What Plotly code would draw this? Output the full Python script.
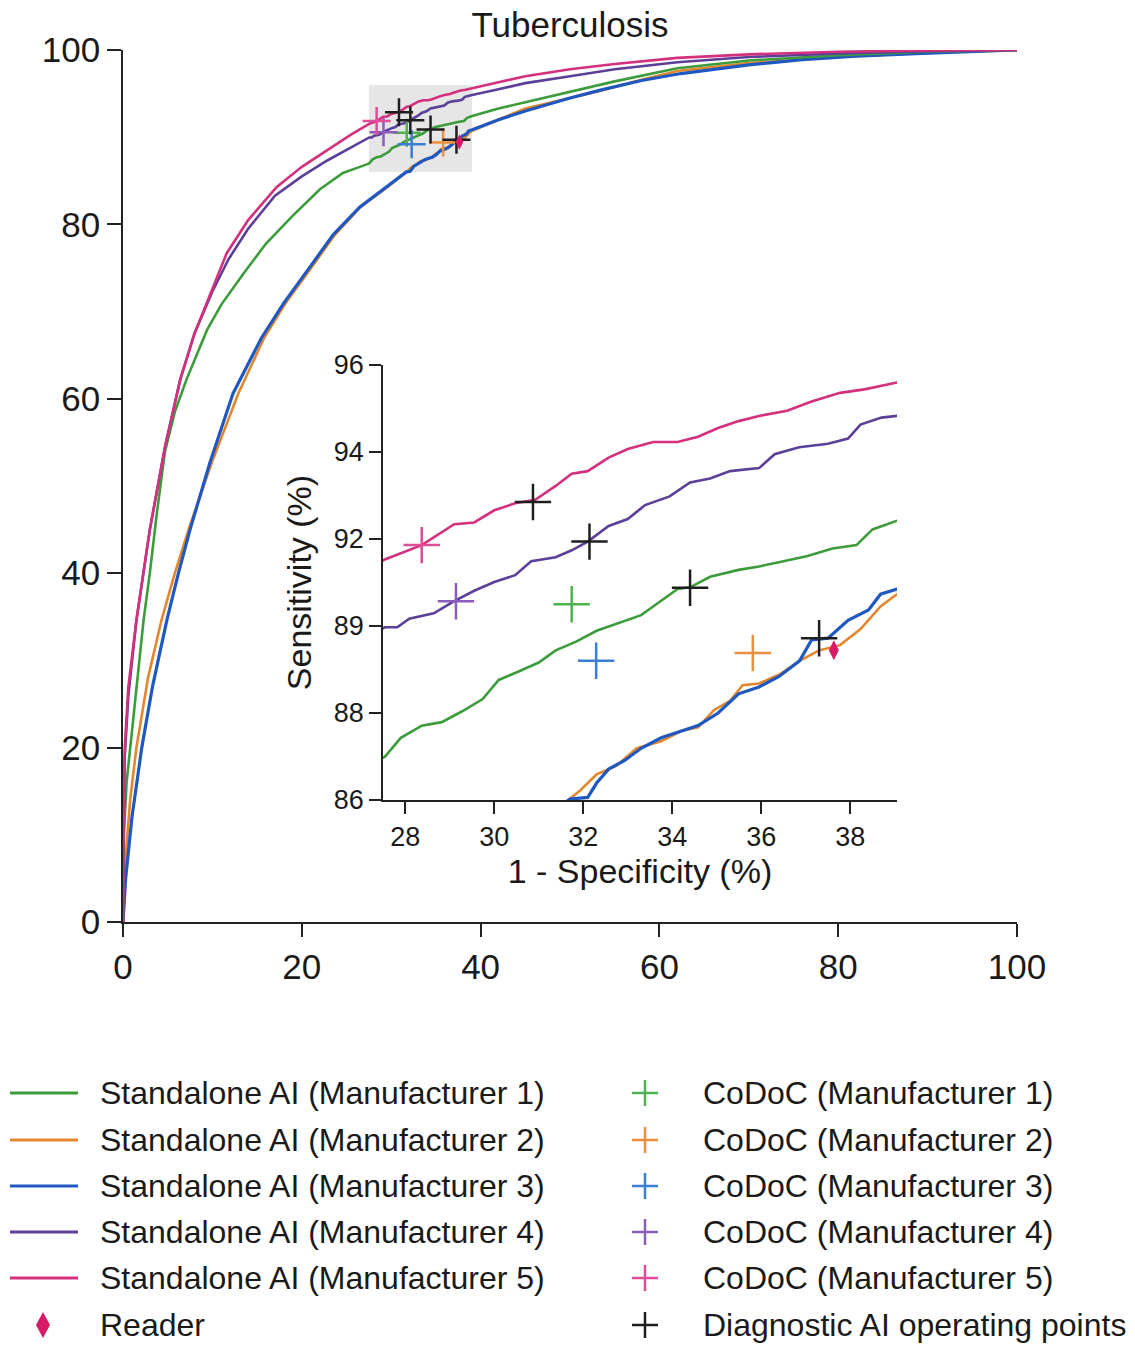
import plotly.graph_objects as go

# ---------------- data ----------------
series_names = ["Standalone AI (Manufacturer 1)", "Standalone AI (Manufacturer 2)",
                "Standalone AI (Manufacturer 3)", "Standalone AI (Manufacturer 4)",
                "Standalone AI (Manufacturer 5)"]
codoc_names = ["CoDoC (Manufacturer 1)", "CoDoC (Manufacturer 2)", "CoDoC (Manufacturer 3)",
               "CoDoC (Manufacturer 4)", "CoDoC (Manufacturer 5)"]
reader_name = "Reader"
diag_name = "Diagnostic AI operating points"

fpr_m1 = [0, 0.1, 0.4, 0.8, 1.5, 2.3, 3.0, 3.8, 4.7, 5.8, 7.1, 8.2, 9.4, 11.0, 13.5, 16.0, 19.0, 22.0, 24.6, 26.5,
          27.54, 27.9, 28.37, 28.82, 29.28, 29.74, 30.1, 30.56, 31.0, 31.38, 31.84, 32.3, 32.84, 33.3, 33.57, 34.12,
          34.4, 34.85, 35.49, 35.95, 36.5, 37.04, 37.6, 38.14, 38.5, 39.05,
          42, 45, 50, 55, 62, 70, 80, 90, 100]
tpr_m1 = [0, 10, 16, 20, 27, 34.6, 40, 47, 54, 58.5, 62.2, 65, 67.9, 70.8, 74.4, 77.8, 81.0, 84.0, 85.9, 86.6,
          86.99, 87.43, 87.71, 87.79, 88.04, 88.32, 88.76, 88.96, 89.16, 89.44, 89.64, 89.89, 90.09, 90.25, 90.45, 90.85,
          90.89, 91.13, 91.29, 91.37, 91.49, 91.61, 91.78, 91.86, 92.22, 92.42,
          93.3, 94.0, 95.2, 96.4, 97.9, 98.8, 99.4, 99.8, 100]

fpr_m2 = [0, 0.2, 0.8, 1.5, 2.8, 4.3, 5.8, 7.5, 9.9, 12.9, 15.8, 18.2, 21.1, 23.7, 26.6, 29.6,
          31.93, 32.3, 32.75, 33.2, 33.75, 34.21, 34.58, 34.94, 35.3, 35.58, 35.95, 36.4, 36.86, 37.3, 37.77, 38.23,
          38.68, 39.05,
          42, 45, 48, 53, 58, 62, 70, 80, 90, 100]
tpr_m2 = [0, 6, 14, 20, 28, 34.6, 40, 45.5, 52.6, 60.6, 67, 71, 75.1, 78.8, 82, 84.3,
          86.22, 86.59, 86.79, 87.19, 87.35, 87.59, 87.67, 88.07, 88.28, 88.64, 88.68, 88.88, 89.2, 89.44, 89.56, 89.93,
          90.45, 90.73,
          92.0, 93.3, 94.0, 95.2, 96.6, 97.6, 98.5, 99.2, 99.7, 100]

fpr_m3 = [0, 0.3, 1.0, 2.1, 3.3, 4.9, 6.2, 7.5, 9.7, 12.3, 15.5, 18.0, 20.9, 23.5, 26.5, 29.5,
          31.7, 32.1, 32.3, 32.57, 32.93, 33.3, 33.75, 34.21, 34.58, 35.03, 35.49, 35.95, 36.4, 36.86, 37.13, 37.5,
          37.95, 38.41, 38.68, 39.05,
          42, 45, 50, 53.4, 58, 62.4, 70, 76, 82, 89.4, 95, 100]
tpr_m3 = [0, 5, 12, 20, 27, 34.6, 40, 45, 52.6, 60.6, 67, 71, 75.1, 78.8, 82, 84.3,
          86.02, 86.06, 86.39, 86.71, 86.91, 87.19, 87.43, 87.59, 87.71, 88.0, 88.44, 88.6, 88.84, 89.2, 89.68, 89.72,
          90.13, 90.37, 90.73, 90.85,
          92.0, 93.0, 94.5, 95.4, 96.5, 97.3, 98.3, 98.9, 99.3, 99.6, 99.85, 100]

fpr_m4 = [0, 0.05, 0.2, 0.6, 1.5, 3.0, 4.7, 6.4, 8.0, 10.0, 11.8, 14.0, 17.0, 20.0, 22.8, 25.5,
          27.54, 27.82, 28.09, 28.64, 29.1, 29.55, 30.0, 30.47, 30.83, 31.38, 31.74, 32.1, 32.57, 33.0, 33.39, 33.94,
          34.4, 34.85, 35.3, 35.95, 36.3, 36.85, 37.5, 37.95, 38.23, 38.7, 39.05,
          42, 45, 50, 55, 62, 70, 80, 90, 100]
tpr_m4 = [0, 10, 19, 26, 34.6, 45, 54.5, 62.2, 67.5, 72.3, 76.0, 79.5, 83.3, 85.5, 87.3, 88.8,
          89.97, 89.97, 90.17, 90.29, 90.57, 90.81, 91.01, 91.17, 91.49, 91.58, 91.74, 91.94, 92.3, 92.46, 92.78, 92.98,
          93.3, 93.39, 93.56, 93.63, 93.95, 94.11, 94.19, 94.31, 94.63, 94.79, 94.83,
          95.5, 96.2, 97.0, 97.8, 98.6, 99.2, 99.6, 99.85, 100]

fpr_m5 = [0, 0.05, 0.2, 0.6, 1.5, 3.0, 4.7, 6.4, 8.0, 10.0, 11.6, 14.0, 17.2, 20.0, 22.8, 25.5,
          27.54, 28.37, 29.1, 29.55, 30.0, 30.47, 30.92, 31.38, 31.74, 32.1, 32.57, 33.0, 33.57, 34.12, 34.58, 35.03,
          35.49, 35.95, 36.58, 37.13, 37.77, 38.32, 39.05,
          42, 45, 50, 55, 62, 70, 80, 90, 100]
tpr_m5 = [0, 10, 20, 27, 34.6, 45, 54.5, 62.2, 67.5, 72.5, 76.7, 80.5, 84.3, 86.6, 88.5, 90.3,
          91.53, 91.86, 92.34, 92.38, 92.66, 92.82, 92.9, 93.22, 93.5, 93.56, 93.87, 94.07, 94.23, 94.23, 94.35, 94.55,
          94.71, 94.83, 94.95, 95.16, 95.36, 95.44, 95.6,
          96.3, 97.0, 97.8, 98.4, 99.1, 99.5, 99.8, 99.95, 100]

codoc_fpr = [31.74, 35.81, 32.29, 29.14, 28.37]
codoc_tpr = [90.5, 89.38, 89.2, 90.57, 91.86]
diag_fpr = [34.4, 37.3, 32.14, 30.87]
diag_tpr = [90.88, 89.72, 91.94, 92.85]
reader_fpr = [37.63]
reader_tpr = [89.44]

main_ticks = [0, 20, 40, 60, 80, 100]
inset_xticks = [28, 30, 32, 34, 36, 38]
inset_yticks = [86, 88, 90, 92, 94, 96]
inset_yticktext = ["86", "88", "89", "92", "94", "96"]
zoom_box_x = [27.5, 39.05]
zoom_box_y = [86, 96]

# ---------------- style ----------------
line_colors = ["#3c9c3c", "#e3862c", "#1f58c0", "#5b3f98", "#d4307c"]
codoc_colors = ["#4fb24f", "#ea8f3e", "#3b7fd4", "#8a5cbc", "#df4c98"]
diag_color = "#1e1e1e"
reader_color = "#d81b66"
FONT = "Liberation Sans, Arial, sans-serif"

W, H = 1135, 1345
ML, MR, MT, MB = 123, 118, 50, 423
PW, PH = W - ML - MR, H - MT - MB


def px_x(px):
    return (px - ML) / PW


def px_y(py):
    return (H - MB - py) / PH


fpr_all = [fpr_m1, fpr_m2, fpr_m3, fpr_m4, fpr_m5]
tpr_all = [tpr_m1, tpr_m2, tpr_m3, tpr_m4, tpr_m5]
draw_order = [1, 2, 0, 3, 4]

fig = go.Figure()
for axes, msize, mw in [(("x", "y"), 20, 2.5), (("x2", "y2"), 26, 2.5)]:
    xa, ya = axes
    for i in draw_order:
        fig.add_trace(go.Scatter(x=fpr_all[i], y=tpr_all[i], mode="lines", name=series_names[i],
                                 line=dict(color=line_colors[i], width=3.2 if i == 2 else 2.6),
                                 xaxis=xa, yaxis=ya, showlegend=False, hoverinfo="skip"))
    for i in range(5):
        fig.add_trace(go.Scatter(x=[codoc_fpr[i]], y=[codoc_tpr[i]], mode="markers", name=codoc_names[i],
                                 marker=dict(symbol="cross-thin", size=msize,
                                             line=dict(color=codoc_colors[i], width=mw)),
                                 xaxis=xa, yaxis=ya, showlegend=False, cliponaxis=False))
    fig.add_trace(go.Scatter(x=diag_fpr, y=diag_tpr, mode="markers", name=diag_name,
                             marker=dict(symbol="cross-thin", size=msize,
                                         line=dict(color=diag_color, width=mw)),
                             xaxis=xa, yaxis=ya, showlegend=False, cliponaxis=False))
    fig.add_trace(go.Scatter(x=reader_fpr, y=reader_tpr, mode="markers", name=reader_name,
                             marker=dict(symbol="diamond-tall", size=msize * 0.55, color=reader_color,
                                         line=dict(width=0)),
                             xaxis=xa, yaxis=ya, showlegend=False, cliponaxis=False))

shapes = [dict(type="rect", xref="x", yref="y", x0=zoom_box_x[0], x1=zoom_box_x[1],
               y0=zoom_box_y[0], y1=zoom_box_y[1], fillcolor="#e6e6e6", line=dict(width=0), layer="below")]
annotations = []

# ---------------- legend (drawn manually in two columns) ----------------
rows_py = [1093, 1140, 1186, 1232, 1278, 1325]
LFS = 32
for r in range(6):
    yp = px_y(rows_py[r])
    # left column
    if r < 5:
        shapes.append(dict(type="line", xref="paper", yref="paper", x0=px_x(10), x1=px_x(78), y0=yp, y1=yp,
                           line=dict(color=line_colors[r], width=3)))
        ltxt = series_names[r]
    else:
        cx, cy = 43, rows_py[r]
        path = "M{},{} L{},{} L{},{} L{},{} Z".format(px_x(cx), px_y(cy - 13), px_x(cx + 7), px_y(cy),
                                                      px_x(cx), px_y(cy + 13), px_x(cx - 7), px_y(cy))
        shapes.append(dict(type="path", xref="paper", yref="paper", path=path, fillcolor=reader_color,
                           line=dict(width=0)))
        ltxt = reader_name
    annotations.append(dict(xref="paper", yref="paper", x=px_x(98), y=yp, text=ltxt, showarrow=False,
                            xanchor="left", yanchor="middle", font=dict(family=FONT, size=LFS, color="#1a1a1a")))
    # right column
    col = codoc_colors[r] if r < 5 else diag_color
    cx, cy = 645, rows_py[r]
    shapes.append(dict(type="line", xref="paper", yref="paper", x0=px_x(cx - 13), x1=px_x(cx + 13),
                       y0=px_y(cy), y1=px_y(cy), line=dict(color=col, width=2.5)))
    shapes.append(dict(type="line", xref="paper", yref="paper", x0=px_x(cx), x1=px_x(cx),
                       y0=px_y(cy - 13), y1=px_y(cy + 13), line=dict(color=col, width=2.5)))
    rtxt = codoc_names[r] if r < 5 else diag_name
    annotations.append(dict(xref="paper", yref="paper", x=px_x(701), y=yp, text=rtxt, showarrow=False,
                            xanchor="left", yanchor="middle", font=dict(family=FONT, size=LFS, color="#1a1a1a")))

axis_common = dict(showgrid=False, zeroline=False, showline=True, linecolor="#222", linewidth=1.6,
                   ticks="outside", tickcolor="#222", tickwidth=1.6, mirror=False)

fig.update_layout(
    width=W, height=H,
    margin=dict(l=ML, r=MR, t=MT, b=MB, pad=0),
    paper_bgcolor="white", plot_bgcolor="white",
    font=dict(family=FONT, color="#1a1a1a"),
    title=dict(text="Tuberculosis", x=0.5, xref="paper", y=1 - 25 / H, yref="container",
               xanchor="center", yanchor="middle", font=dict(family=FONT, size=35, color="#1a1a1a")),
    xaxis=dict(domain=[0, 1], range=[0, 100], tickvals=main_ticks, ticklen=13,
               tickfont=dict(size=35), anchor="y", **axis_common),
    yaxis=dict(domain=[0, 1], range=[0, 100], tickvals=main_ticks, ticklen=14,
               tickfont=dict(size=35), anchor="x", **axis_common),
    xaxis2=dict(domain=[px_x(383), px_x(897)], range=zoom_box_x, tickvals=inset_xticks, ticklen=12,
                tickfont=dict(size=27), anchor="y2",
                title=dict(text="1 - Specificity (%)", font=dict(size=34), standoff=8), **axis_common),
    yaxis2=dict(domain=[px_y(800), px_y(365)], range=zoom_box_y, tickvals=inset_yticks,
                ticktext=inset_yticktext, ticklen=12, tickfont=dict(size=27), anchor="x2",
                title=dict(text="Sensitivity (%)", font=dict(size=34), standoff=12), **axis_common),
    shapes=shapes,
    annotations=annotations,
    showlegend=False,
)

fig.write_html("out.html", config={"displayModeBar": False},
               post_script="document.body.style.margin='0';")
